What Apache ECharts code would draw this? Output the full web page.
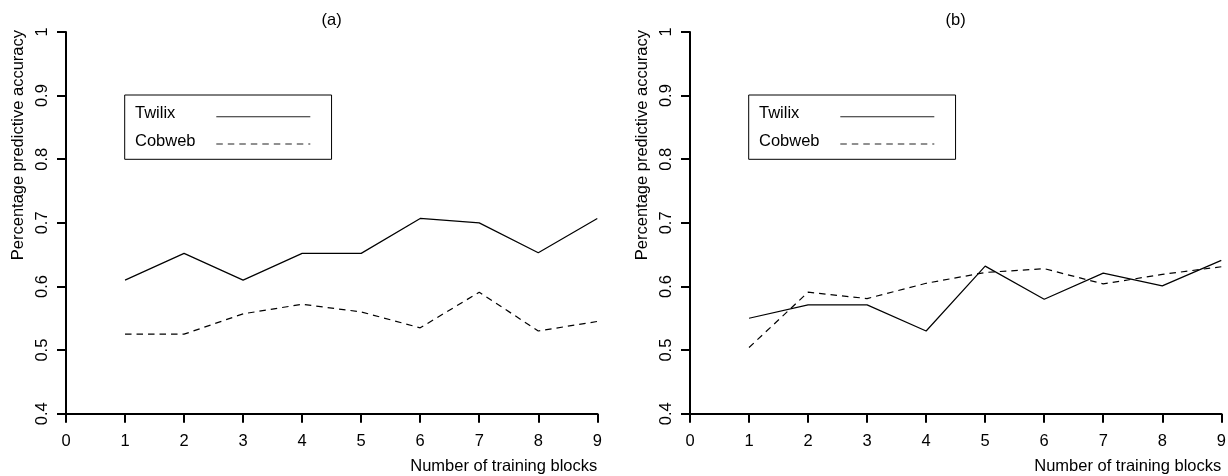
<!DOCTYPE html>
<html>
<head>
<meta charset="utf-8">
<script src="https://cdn.jsdelivr.net/npm/echarts@6/dist/echarts.min.js"></script>
<style>
  html, body { margin: 0; padding: 0; background: #fff; }
  #chart { width: 1228px; height: 476px; }
</style>
</head>
<body>
<div id="chart"></div>
<script>
// ---- data ----
const blocks = [1, 2, 3, 4, 5, 6, 7, 8, 9];
const twilixA = [0.610, 0.652, 0.610, 0.652, 0.652, 0.707, 0.700, 0.653, 0.707];
const cobwebA = [0.525, 0.525, 0.557, 0.572, 0.560, 0.535, 0.591, 0.530, 0.545];
const twilixB = [0.550, 0.571, 0.571, 0.530, 0.632, 0.580, 0.621, 0.601, 0.641];
const cobwebB = [0.504, 0.591, 0.581, 0.605, 0.622, 0.628, 0.604, 0.619, 0.631];
const panelTitles = ['(a)', '(b)'];
const seriesNames = ['Twilix', 'Cobweb'];
const xTitle = 'Number of training blocks';
const yTitle = 'Percentage predictive accuracy';

const FONT = "'Liberation Sans', Arial, sans-serif";
const FS = 16.5;

const chart = echarts.init(document.getElementById('chart'), null, { renderer: 'canvas' });

const grids = [
  { left: 66, top: 32, width: 531.3, height: 381.7 },
  { left: 690, top: 32, width: 531.3, height: 381.7 }
];

function pairs(vals) { return blocks.map((b, i) => [b, vals[i]]); }

const axisLineStyle = { color: '#000', width: 2 };

const xAxes = grids.map((g, i) => ({
  type: 'value', gridIndex: i, min: 0, max: 9, interval: 1,
  axisLine: { show: true, onZero: false, lineStyle: axisLineStyle },
  axisTick: { show: true, length: 9, lineStyle: { color: '#000', width: 2 } },
  axisLabel: { show: true, margin: 19, color: '#000', fontSize: FS, fontFamily: FONT },
  splitLine: { show: false }
}));
const yAxes = grids.map((g, i) => ({
  type: 'value', gridIndex: i, min: 0.4, max: 1, interval: 0.1,
  axisLine: { show: true, onZero: false, lineStyle: axisLineStyle },
  axisTick: { show: true, length: 9, lineStyle: { color: '#000', width: 2 } },
  axisLabel: { show: true, rotate: 90, margin: 15, color: '#000', fontSize: FS, fontFamily: FONT,
    formatter: v => String(Math.round(v * 10) / 10) },
  splitLine: { show: false }
}));

const solid = { color: '#000', width: 1.2, type: 'solid' };
const dashed = { color: '#000', width: 1.2, type: [6.5, 5] };

const series = [
  { name: seriesNames[0], type: 'line', xAxisIndex: 0, yAxisIndex: 0, data: pairs(twilixA), symbol: 'none', lineStyle: solid, itemStyle: { color: '#000' } },
  { name: seriesNames[1], type: 'line', xAxisIndex: 0, yAxisIndex: 0, data: pairs(cobwebA), symbol: 'none', lineStyle: dashed, itemStyle: { color: '#000' } },
  { name: seriesNames[0], type: 'line', xAxisIndex: 1, yAxisIndex: 1, data: pairs(twilixB), symbol: 'none', lineStyle: solid, itemStyle: { color: '#000' } },
  { name: seriesNames[1], type: 'line', xAxisIndex: 1, yAxisIndex: 1, data: pairs(cobwebB), symbol: 'none', lineStyle: dashed, itemStyle: { color: '#000' } }
];

const legends = grids.map((g, i) => ({
  orient: 'vertical',
  left: g.left + 58.7, top: 95,
  align: 'right',
  data: [
    { name: seriesNames[0], lineStyle: { color: '#222', width: 1.1, type: 'solid' } },
    { name: seriesNames[1], lineStyle: { color: '#222', width: 1.1, type: [6.5, 5] } }
  ],
  itemWidth: 94, itemHeight: 14, itemGap: 4.3,
  padding: [10.2, 20.7, 3.8, 10.3],
  borderColor: '#000', borderWidth: 1, borderRadius: 0,
  backgroundColor: '#fff',
  selectedMode: false,
  itemStyle: { opacity: 0 },
  formatter: '{n|{name}}',
  textStyle: {
    color: '#000', fontSize: FS, fontFamily: FONT,
    rich: { n: { width: 76.3, align: 'left', color: '#000', fontSize: FS, fontFamily: FONT, lineHeight: 17, padding: [0, 0, 6, 0] } }
  }
}));

const titles = grids.map((g, i) => ({
  text: panelTitles[i],
  left: g.left + g.width / 2, top: 11.75,
  textAlign: 'center', padding: 0,
  textStyle: { color: '#000', fontSize: FS, fontWeight: 'normal', fontFamily: FONT }
}));

const graphics = [];
grids.forEach((g, i) => {
  graphics.push({
    type: 'text', x: g.left + g.width, y: 466.3,
    style: { text: xTitle, align: 'right', verticalAlign: 'middle', fill: '#000', font: `${FS}px ${FONT}` },
    silent: true
  });
  graphics.push({
    type: 'text', x: g.left - 47.5, y: 30, rotation: Math.PI / 2,
    style: { text: yTitle, align: 'right', verticalAlign: 'middle', fill: '#000', font: `${FS}px ${FONT}` },
    silent: true
  });
});

chart.setOption({
  animation: false,
  backgroundColor: '#fff',
  textStyle: { fontFamily: FONT },
  title: titles,
  legend: legends,
  grid: grids.map(g => Object.assign({ containLabel: false, outerBoundsMode: 'none' }, g)),
  xAxis: xAxes,
  yAxis: yAxes,
  series: series,
  graphic: graphics
});
</script>
</body>
</html>
